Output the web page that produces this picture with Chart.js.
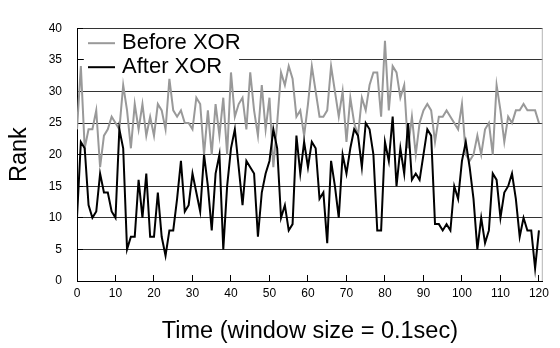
<!DOCTYPE html>
<html>
<head>
<meta charset="utf-8">
<title>Rank before and after XOR</title>
<script src="https://cdn.jsdelivr.net/npm/chart.js@4.4.1/dist/chart.umd.min.js"></script>
<style>
    html, body { margin: 0; padding: 0; background: #fff; }
    #wrap { width: 560px; height: 348px; }
</style>
</head>
<body>
<div id="wrap"><canvas id="rankChart" width="560" height="348"></canvas></div>
<script>
"use strict";

// Serienamn
const seriesNames = ['Before XOR', 'After XOR'];

// Rank per tidsfönster (0.1 s)
const beforeXor = [
    24, 34, 21, 24, 24, 27, 18, 23, 24, 26,
    25, 24, 31, 27, 21, 28, 24, 28, 23, 26,
    23, 28, 27, 24, 32, 27, 26, 27, 25, 25,
    24, 29, 28, 20, 27, 20, 28, 23, 29, 20,
    33, 26, 28, 29, 24, 33, 27, 23, 31, 24,
    29, 18, 25, 33, 31, 34, 32, 26, 27, 23,
    28, 34, 30, 26, 26, 27, 34, 30, 26, 30,
    22, 29, 25, 23, 29, 27, 31, 33, 33, 26,
    38, 27, 34, 33, 29, 31, 21, 26, 20, 25,
    27, 28, 27, 22, 26, 26, 27, 26, 25, 24,
    28, 20, 19, 20, 23, 20, 24, 25, 20, 31,
    27, 22, 26, 25, 27, 27, 28, 27, 27, 27,
    25
];

const afterXor = [
    10, 22, 21, 12, 10, 11, 17, 14, 14, 11,
    10, 24, 21, 5, 7, 7, 16, 10, 17, 7,
    7, 14, 7, 4, 8, 8, 13, 19, 11, 12,
    17, 14, 11, 20, 15, 8, 17, 20, 5, 15,
    21, 24, 18, 12, 19, 18, 17, 7, 14, 17,
    19, 24, 21, 10, 12, 8, 9, 23, 17, 22,
    18, 22, 21, 13, 14, 6, 19, 15, 10, 20,
    17, 21, 24, 23, 18, 25, 24, 20, 8, 8,
    22, 19, 26, 15, 21, 17, 25, 16, 17, 16,
    20, 24, 23, 9, 9, 8, 9, 8, 15, 13,
    19, 22, 18, 13, 5, 10, 6, 8, 17, 16,
    10, 14, 15, 17, 13, 7, 10, 8, 8, 2,
    8
];

// Tickvärden på axlarna
const xTickValues = [0, 10, 20, 30, 40, 50, 60, 70, 80, 90, 100, 110, 120];
const yTickValues = [0, 5, 10, 15, 20, 25, 30, 35, 40];

const fontFamily = '"Liberation Sans", Arial, Helvetica, sans-serif';
Chart.defaults.font.family = fontFamily;
Chart.defaults.color = '#000';

// Gör om en serie till punkter med tidsindex som x
function toPoints(values) {
    return values.map((value, index) => ({ x: index, y: value }));
}

// Plugin: grå ram till höger och en legend med vit bakgrund inne i diagramytan
const insideLegend = {
    id: 'insideLegend',
    beforeDatasetsDraw(chart) {
        const { ctx, chartArea } = chart;
        ctx.save();

        ctx.strokeStyle = '#b4b4b4';
        ctx.lineWidth = 1;
        ctx.beginPath();
        ctx.moveTo(chartArea.right - 0.5, chartArea.top);
        ctx.lineTo(chartArea.right - 0.5, chartArea.bottom);
        ctx.stroke();

        const x0 = chartArea.left + 7;
        ctx.fillStyle = '#fff';
        ctx.fillRect(x0, chartArea.top + 1, 155, 50);

        ctx.font = '22px ' + fontFamily;
        ctx.textBaseline = 'middle';
        chart.data.datasets.forEach((dataset, i) => {
            const y = chartArea.top + 15 + i * 24;
            ctx.strokeStyle = dataset.borderColor;
            ctx.lineWidth = 2;
            ctx.beginPath();
            ctx.moveTo(chartArea.left + 11, y);
            ctx.lineTo(chartArea.left + 38, y);
            ctx.stroke();
            ctx.fillStyle = '#000';
            ctx.fillText(dataset.label, chartArea.left + 45, y);
        });

        ctx.restore();
    }
};

const chartEl = document.getElementById('rankChart');

new Chart(chartEl, {
    type: 'line',
    data: {
        datasets: [{
            label: seriesNames[0],
            data: toPoints(beforeXor),
            borderColor: '#999999',
            borderWidth: 2,
            pointRadius: 0,
            tension: 0,
            order: 2
        }, {
            label: seriesNames[1],
            data: toPoints(afterXor),
            borderColor: '#000000',
            borderWidth: 2,
            pointRadius: 0,
            tension: 0,
            order: 1
        }]
    },
    options: {
        responsive: false,
        animation: false,
        layout: {
            padding: { top: 9, right: 5, left: 0, bottom: 0 }
        },
        plugins: {
            legend: { display: false },
            tooltip: { enabled: false }
        },
        scales: {
            x: {
                type: 'linear',
                min: 0,
                max: 121,
                afterBuildTicks: scale => {
                    scale.ticks = xTickValues.map(value => ({ value }));
                },
                afterFit: scale => {
                    scale.height = 67;
                },
                border: { color: '#000', width: 1 },
                grid: {
                    drawOnChartArea: false,
                    drawTicks: true,
                    tickLength: -6,
                    tickColor: '#000'
                },
                ticks: {
                    padding: 11,
                    maxRotation: 0,
                    font: { size: 12 }
                },
                title: {
                    display: true,
                    text: 'Time (window size = 0.1sec)',
                    font: { size: 23.5 },
                    padding: { top: 0, bottom: 2 }
                }
            },
            y: {
                min: 0,
                max: 40,
                afterBuildTicks: scale => {
                    scale.ticks = yTickValues.map(value => ({ value }));
                },
                afterFit: scale => {
                    scale.width = 77;
                },
                border: { color: '#000', width: 1 },
                grid: {
                    color: '#333333',
                    lineWidth: 1,
                    drawTicks: true,
                    tickLength: -6,
                    tickColor: '#000'
                },
                ticks: {
                    padding: 21,
                    font: { size: 12 }
                },
                title: {
                    display: true,
                    text: 'Rank',
                    font: { size: 23.5 },
                    padding: { top: 5, bottom: 0 }
                }
            }
        }
    },
    plugins: [insideLegend]
});
</script>
</body>
</html>
